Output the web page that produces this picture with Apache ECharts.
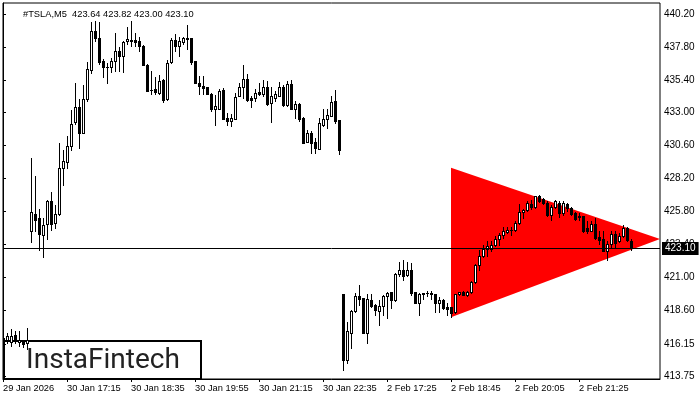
<!DOCTYPE html>
<html>
<head>
<meta charset="utf-8">
<script src="https://cdn.jsdelivr.net/npm/echarts@6/dist/echarts.min.js"></script>
<style>
  html, body { margin: 0; padding: 0; background: #fff; }
  #chart { width: 700px; height: 400px; }
</style>
</head>
<body>
<div id="chart"></div>
<script>
// #TSLA M5 bars, 29 Jan 22:25 .. 2 Feb 22:10 (bar index = position on the time scale)
const symbol = '#TSLA,M5';

const timeTickIndex = [0, 16, 32, 48, 64, 80, 96, 112, 128, 144];
const timeLabels = ['29 Jan 2026', '30 Jan 17:15', '30 Jan 18:35', '30 Jan 19:55', '30 Jan 21:15',
                    '30 Jan 22:35', '2 Feb 17:25', '2 Feb 18:45', '2 Feb 20:05', '2 Feb 21:25'];

const priceTicks = [413.75, 416.15, 418.60, 421.00, 423.40, 425.80, 428.20, 430.60, 433.00, 435.40, 437.80, 440.20];

const opens = [
  416.60, 416.40, 416.30, 416.80, 416.30, 416.30, 416.20, 424.40, 425.64, 425.33,
  424.10, 424.90, 426.54, 424.96, 425.64, 429.00, 429.43, 430.55, 432.30, 433.40,
  431.55, 433.98, 436.10, 438.96, 438.44, 436.76, 436.30, 436.32, 436.74, 437.50,
  437.10, 438.25, 438.32, 438.28, 438.23, 437.88, 436.49, 434.68, 434.71, 434.46,
  435.40, 433.98, 436.68, 438.32, 437.84, 438.15, 438.35, 438.43, 436.76, 435.15,
  434.96, 434.84, 434.40, 433.30, 433.30, 434.64, 432.64, 432.40, 432.56, 434.23,
  434.91, 435.45, 434.05, 434.10, 434.50, 434.35, 434.84, 433.69, 434.09, 434.23,
  434.91, 433.54, 435.08, 433.30, 433.62, 432.64, 430.86, 431.50, 430.86, 430.38,
  432.08, 432.57, 432.76, 433.86, 432.45, 419.80, 415.00, 416.90, 418.57, 419.60,
  419.48, 416.93, 419.35, 418.99, 418.57, 418.91, 419.60, 419.92, 419.35, 421.23,
  421.55, 421.18, 421.55, 419.92, 419.15, 419.79, 419.82, 419.84, 419.77, 419.15,
  419.35, 418.82, 418.82, 418.47, 419.77, 419.92, 419.67, 419.92, 420.62, 421.91,
  422.52, 423.08, 423.06, 423.37, 423.79, 424.06, 424.30, 424.45, 424.42, 424.96,
  425.77, 425.94, 426.35, 426.10, 426.96, 426.74, 426.43, 425.52, 426.10, 426.43,
  425.70, 426.35, 426.06, 425.70, 425.50, 425.45, 424.57, 424.40, 424.89, 423.90,
  423.81, 422.94, 423.43, 424.16, 423.67, 423.98, 424.57, 423.64
];
const highs = [
  416.90, 416.90, 417.20, 417.10, 417.05, 416.40, 417.30, 429.70, 428.40, 426.00,
  425.35, 426.60, 427.20, 426.30, 430.76, 430.30, 431.27, 433.18, 435.15, 433.98,
  435.00, 436.69, 439.65, 439.70, 439.65, 436.90, 436.60, 436.98, 438.80, 437.80,
  438.20, 439.25, 439.69, 438.80, 438.50, 437.93, 436.54, 436.03, 435.60, 435.74,
  435.45, 436.84, 438.44, 438.74, 438.50, 438.50, 439.40, 438.45, 436.80, 435.70,
  435.66, 434.86, 434.42, 434.27, 434.71, 434.79, 432.96, 432.90, 434.42, 435.15,
  436.47, 435.81, 434.20, 434.71, 435.15, 435.37, 435.30, 434.84, 434.57, 435.22,
  435.00, 435.30, 435.37, 433.86, 433.74, 432.66, 431.72, 431.66, 431.18, 432.64,
  433.25, 433.25, 434.22, 434.64, 432.45, 419.80, 417.76, 418.62, 419.86, 420.45,
  419.50, 419.80, 419.77, 419.06, 419.35, 419.72, 419.96, 419.94, 421.33, 422.10,
  422.28, 422.10, 422.06, 419.94, 419.84, 419.88, 420.00, 420.00, 419.79, 419.55,
  419.42, 419.13, 418.84, 419.79, 419.96, 420.00, 420.00, 420.70, 421.96, 423.01,
  423.37, 423.62, 423.62, 423.98, 424.23, 424.64, 424.64, 424.64, 425.13, 426.35,
  426.00, 426.54, 426.67, 426.96, 427.03, 426.79, 426.54, 426.25, 426.67, 426.54,
  426.54, 426.43, 426.10, 425.77, 425.70, 425.50, 425.13, 425.13, 425.33, 424.40,
  424.35, 423.62, 424.35, 424.35, 424.23, 424.79, 424.64, 423.82
];
const lows = [
  416.00, 416.20, 416.00, 416.20, 416.00, 415.90, 415.80, 423.60, 424.35, 423.00,
  422.50, 423.80, 424.47, 424.60, 425.57, 427.76, 429.00, 430.30, 432.15, 430.40,
  431.50, 433.84, 435.90, 438.20, 436.54, 435.60, 435.15, 435.95, 436.03, 436.03,
  436.00, 438.00, 437.88, 437.88, 437.50, 436.47, 434.57, 434.35, 434.35, 434.35,
  433.76, 433.90, 436.60, 437.50, 437.10, 438.00, 437.64, 436.54, 435.13, 434.35,
  434.35, 434.35, 433.10, 432.08, 433.25, 432.52, 432.08, 432.00, 432.52, 434.20,
  434.05, 433.87, 433.40, 433.84, 434.27, 434.20, 433.54, 432.32, 433.86, 434.20,
  433.47, 433.47, 433.25, 432.64, 432.40, 430.80, 430.84, 430.08, 430.08, 430.36,
  432.03, 431.91, 432.74, 432.28, 429.96, 414.23, 414.72, 415.86, 418.50, 418.99,
  416.90, 416.20, 418.86, 418.25, 417.52, 418.25, 418.00, 418.77, 419.30, 421.10,
  420.81, 421.06, 419.72, 419.10, 418.25, 419.40, 419.60, 419.40, 418.50, 418.50,
  418.70, 418.25, 418.13, 418.40, 419.72, 419.67, 419.60, 419.84, 420.57, 421.55,
  422.50, 422.52, 422.88, 423.25, 423.32, 423.86, 424.23, 424.11, 424.40, 424.91,
  425.33, 425.86, 426.00, 426.06, 426.50, 426.35, 425.45, 425.20, 426.06, 425.38,
  425.52, 425.81, 425.57, 425.20, 425.20, 424.33, 424.23, 424.35, 423.81, 423.43,
  422.88, 422.28, 423.13, 423.13, 423.57, 423.90, 423.67, 423.00
];
const closes = [
  416.40, 416.70, 416.75, 416.50, 416.40, 416.10, 416.40, 425.75, 425.20, 424.16,
  424.84, 426.54, 424.90, 425.64, 429.00, 429.45, 430.57, 432.20, 433.40, 431.50,
  433.98, 436.18, 438.96, 438.44, 436.69, 436.32, 436.36, 436.76, 437.50, 437.10,
  438.17, 438.37, 438.20, 438.15, 437.88, 436.47, 434.60, 434.64, 434.50, 435.30,
  433.90, 436.60, 438.30, 437.88, 438.23, 438.42, 438.43, 436.69, 435.15, 434.93,
  434.78, 434.40, 433.25, 433.47, 434.57, 432.57, 432.37, 432.64, 434.13, 434.91,
  435.45, 433.93, 433.91, 434.47, 434.35, 434.84, 433.62, 434.22, 434.35, 434.91,
  433.54, 435.08, 433.30, 433.62, 432.52, 430.81, 431.50, 430.76, 430.45, 432.23,
  432.57, 432.81, 433.78, 432.40, 430.27, 415.00, 417.10, 418.55, 419.60, 419.40,
  416.93, 419.40, 418.91, 418.62, 418.91, 419.64, 419.84, 419.35, 421.25, 421.55,
  421.06, 421.55, 419.84, 419.10, 419.77, 419.84, 419.84, 419.80, 419.15, 419.35,
  418.74, 418.67, 418.38, 419.79, 419.92, 419.72, 419.96, 420.62, 421.91, 422.52,
  423.06, 423.25, 423.37, 423.79, 424.06, 424.40, 424.47, 424.47, 424.96, 425.77,
  425.94, 426.43, 426.10, 426.90, 426.54, 426.43, 425.52, 426.10, 426.54, 425.70,
  426.43, 426.06, 425.62, 425.28, 425.38, 424.40, 424.40, 424.89, 423.86, 423.74,
  422.94, 423.43, 424.16, 423.50, 423.98, 424.57, 423.74, 423.10
];

// symmetrical triangle: [bar index, price] at its three corners
const triangleIdx = [112, 112, 164.25];
const trianglePrice = [428.99, 418.09, 423.79];

const last = closes.length - 1;
const bidPrice = closes[last];

const candleData = opens.map((o, i) => [i, o, closes[i], lows[i], highs[i]]);

const FONT = '"Liberation Sans", Arial, sans-serif';

function renderCandle(params, api) {
  const i = api.value(0);
  const o = api.value(1), c = api.value(2), l = api.value(3), h = api.value(4);
  const x = Math.round(api.coord([i, o])[0]);
  const yO = api.coord([i, o])[1], yC = api.coord([i, c])[1];
  const yH = Math.round(api.coord([i, h])[1]);
  const yL = Math.round(api.coord([i, l])[1]);
  const yTop = Math.round(Math.min(yO, yC));
  const yBot = Math.round(Math.max(yO, yC));
  const children = [
    { type: 'rect', shape: { x: x, y: yH, width: 1, height: Math.max(1, yL - yH + 1) }, style: { fill: '#000' } },
    { type: 'rect', shape: { x: x - 1, y: yTop, width: 3, height: Math.max(1, yBot - yTop + 1) }, style: { fill: '#000' } }
  ];
  if (c > o && yBot - yTop >= 2) {
    children.push({ type: 'rect', shape: { x: x, y: yTop + 1, width: 1, height: yBot - yTop - 1 }, style: { fill: '#fff' } });
  }
  return { type: 'group', children: children };
}

function renderTriangle(params, api) {
  const pts = triangleIdx.map((v, k) => api.coord([v, trianglePrice[k]]));
  return { type: 'polygon', shape: { points: pts }, style: { fill: '#ff0000' } };
}

const chart = echarts.init(document.getElementById('chart'), null, { renderer: 'canvas' });

chart.setOption({
  animation: false,
  backgroundColor: '#fff',
  title: {
    text: symbol + '  ' + [opens[last], highs[last], lows[last], closes[last]].map(v => v.toFixed(2)).join(' '),
    left: 18, top: 5,
    textStyle: { fontSize: 9.3, fontWeight: 'normal', color: '#000', fontFamily: FONT }
  },
  grid: {
    left: 3, right: 40, top: 3, bottom: 21,
    show: true, borderColor: '#000', borderWidth: 1, backgroundColor: '#fff'
  },
  xAxis: {
    type: 'value', min: 0, max: 164.25,
    splitLine: { show: false },
    axisLine: { show: true, lineStyle: { color: '#000', width: 1 } },
    axisTick: { show: true, length: 3, customValues: timeTickIndex, lineStyle: { color: '#000' } },
    axisLabel: {
      customValues: timeTickIndex,
      formatter: v => timeLabels[timeTickIndex.indexOf(Math.round(v))] || '',
      align: 'left', margin: 5,
      color: '#000', fontSize: 9.3, fontFamily: FONT
    }
  },
  yAxis: {
    type: 'value', position: 'right', min: 413.58, max: 441.0, scale: true,
    splitLine: { show: false },
    axisLine: { show: true, lineStyle: { color: '#000', width: 1 } },
    axisTick: { show: true, length: 3, customValues: priceTicks, lineStyle: { color: '#000' } },
    axisLabel: {
      customValues: priceTicks,
      formatter: v => v.toFixed(2),
      margin: 4, color: '#000', fontSize: 10, fontFamily: FONT
    }
  },
  series: [
    {
      type: 'custom', name: 'Triangle', z: 1, clip: true, silent: true,
      renderItem: renderTriangle, data: [[triangleIdx[0], trianglePrice[0]]]
    },
    {
      type: 'line', name: 'Bid', z: 2, data: [], silent: true,
      markLine: {
        silent: true, symbol: 'none', animation: false,
        lineStyle: { color: '#000', width: 1, type: 'solid' },
        label: {
          show: true, position: 'end', distance: 2,
          formatter: () => bidPrice.toFixed(2),
          backgroundColor: '#000', color: '#fff', padding: [2, 3, 1, 3],
          fontSize: 10, fontFamily: FONT
        },
        data: [{ yAxis: bidPrice }]
      }
    },
    {
      type: 'custom', name: symbol, z: 3, clip: true, silent: true,
      renderItem: renderCandle,
      encode: { x: 0, y: [1, 2, 3, 4] },
      data: candleData
    }
  ],
  graphic: [
    {
      type: 'group', left: 3, top: 340, z: 100,
      children: [
        { type: 'rect', shape: { x: 1, y: 1, width: 197, height: 38 }, style: { fill: '#fff', stroke: '#000', lineWidth: 2 } },
        { type: 'text', x: 100, y: 21, style: {
            text: 'InstaFintech', fill: '#222', font: '400 28px Roboto, sans-serif',
            align: 'center', verticalAlign: 'middle' } }
      ]
    }
  ]
});
</script>
</body>
</html>
